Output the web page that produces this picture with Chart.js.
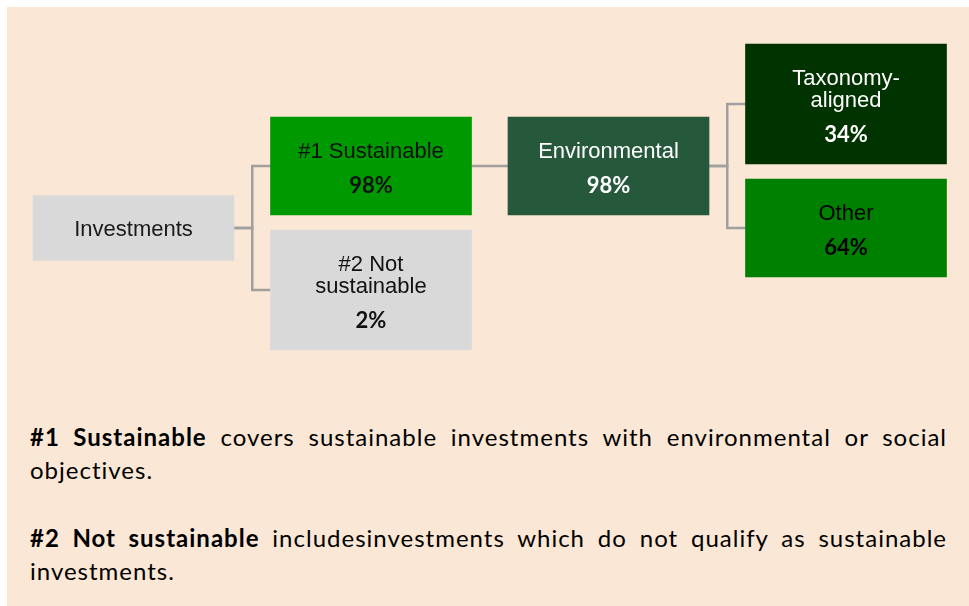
<!DOCTYPE html>
<html lang="en">
<head>
    <meta charset="UTF-8">
    <title>Asset allocation</title>
    <script src="https://cdn.jsdelivr.net/npm/chart.js"></script>
    <style>
        html, body {
            margin: 0;
            padding: 0;
            background: #ffffff;
            width: 969px;
            height: 606px;
            overflow: hidden;
        }
        #panel {
            position: absolute;
            left: 7px;
            top: 7px;
            width: 962px;
            height: 599px;
            background: #FBE7D5;
        }
        #treeChart {
            position: absolute;
            left: 0;
            top: 0;
        }
        .note {
            position: absolute;
            left: 30px;
            width: 917px;
            font-family: Lato, "Open Sans", sans-serif;
            font-size: 24px;
            letter-spacing: 1px;
            line-height: 33px;
            color: #000;
            text-align: justify;
            text-align-last: left;
        }
        .note b { font-weight: 700; }
    </style>
</head>
<body>
    <div id="panel"></div>
    <canvas id="treeChart" width="969" height="400"></canvas>

    <!-- Definitions under the diagram -->
    <div class="note" style="top: 420px;">
        <b>#1 Sustainable</b> covers sustainable investments with environmental or social objectives.
    </div>
    <div class="note" style="top: 521px;">
        <b>#2 Not sustainable</b> includesinvestments which do not qualify as sustainable investments.
    </div>

    <script>
        // tree data
        const nodeLabels = ['Investments', '#1 Sustainable', '#2 Not\nsustainable', 'Environmental', 'Taxonomy-\naligned', 'Other'];
        const nodeShares = [null, 98, 2, 98, 34, 64];
        const nodeParents = [-1, 0, 0, 1, 3, 3];

        // styles
        const boxColors = ['#D9D9D9', '#009900', '#D9D9D9', '#26583B', '#003300', '#008000'];
        const textColors = ['#1a1a1a', '#111111', '#111111', '#ffffff', '#ffffff', '#000000'];

        // layout constants
        const colLeft = 33, colStep = 237.5, boxWidth = 201;
        const lineH = 22, siblingGap = 15, rootCenter = 228;

        function lineCount(i) { return nodeLabels[i].split('\n').length; }
        function boxHeight(i) { return 43 + lineH * lineCount(i) + (nodeShares[i] != null ? 33 : 0); }

        const level = nodeParents.map((p, i) => {
            let d = 0, k = i;
            while (nodeParents[k] >= 0) { k = nodeParents[k]; d++; }
            return d;
        });

        // place children so the middle of first/last child centres sits on the parent centre
        const centers = new Array(nodeLabels.length);
        function place(i, c) {
            centers[i] = c;
            const kids = nodeParents.map((p, k) => p === i ? k : -1).filter(k => k >= 0);
            if (!kids.length) return;
            const rel = [0];
            for (let k = 1; k < kids.length; k++) {
                rel.push(rel[k - 1] + boxHeight(kids[k - 1]) / 2 + siblingGap + boxHeight(kids[k]) / 2);
            }
            const shift = c - rel[rel.length - 1] / 2;
            kids.forEach((k, j) => place(k, shift + rel[j]));
        }
        place(0, rootCenter);

        const left = i => colLeft + level[i] * colStep;
        const right = i => left(i) + boxWidth;

        const boxSets = nodeLabels.map((label, i) => ({
            type: 'bar',
            label: label,
            indexAxis: 'y',
            data: [{ x: [left(i), right(i)], y: centers[i] }],
            backgroundColor: boxColors[i],
            borderWidth: 0,
            barThickness: boxHeight(i),
            grouped: false,
            order: 1
        }));

        // elbow connectors parent -> child
        const linkSets = nodeParents.map((p, i) => {
            if (p < 0) return null;
            const elbow = (right(p) + left(i)) / 2;
            return {
                type: 'line',
                label: 'link' + i,
                data: [
                    { x: right(p), y: centers[p] },
                    { x: elbow, y: centers[p] },
                    { x: elbow, y: centers[i] },
                    { x: left(i), y: centers[i] }
                ],
                borderColor: '#A0A0A0',
                borderWidth: 2.5,
                pointRadius: 0,
                tension: 0,
                fill: false,
                order: 2
            };
        }).filter(Boolean);

        const boxText = {
            id: 'boxText',
            afterDatasetsDraw(chart) {
                const ctx = chart.ctx;
                ctx.save();
                ctx.textAlign = 'center';
                ctx.textBaseline = 'middle';
                nodeLabels.forEach((label, i) => {
                    const el = chart.getDatasetMeta(i).data[0];
                    const cx = (el.x + el.base) / 2;
                    const cy = el.y;
                    const lines = label.split('\n');
                    ctx.fillStyle = textColors[i];
                    ctx.font = '22px "Liberation Sans", Arial, sans-serif';
                    if (nodeShares[i] == null) {
                        ctx.fillText(lines[0], cx, cy + 2);
                        return;
                    }
                    const top = cy - (lineH * lines.length + 34) / 2;
                    lines.forEach((t, k) => ctx.fillText(t, cx, top + lineH / 2 + k * lineH + 2.5));
                    ctx.font = 'bold 22px Lato, "Open Sans", sans-serif';
                    ctx.fillText(nodeShares[i] + '%', cx, top + lineH * lines.length + 25.5);
                });
                ctx.restore();
            }
        };

        new Chart(document.getElementById('treeChart'), {
            type: 'bar',
            data: { datasets: [...boxSets, ...linkSets] },
            options: {
                responsive: false,
                animation: false,
                layout: { padding: 0 },
                plugins: {
                    legend: { display: false },
                    tooltip: { enabled: false }
                },
                scales: {
                    x: { type: 'linear', min: 0, max: 969, offset: false, display: false },
                    y: { type: 'linear', min: 0, max: 400, offset: false, reverse: true, display: false }
                }
            },
            plugins: [boxText]
        });
    </script>
</body>
</html>
